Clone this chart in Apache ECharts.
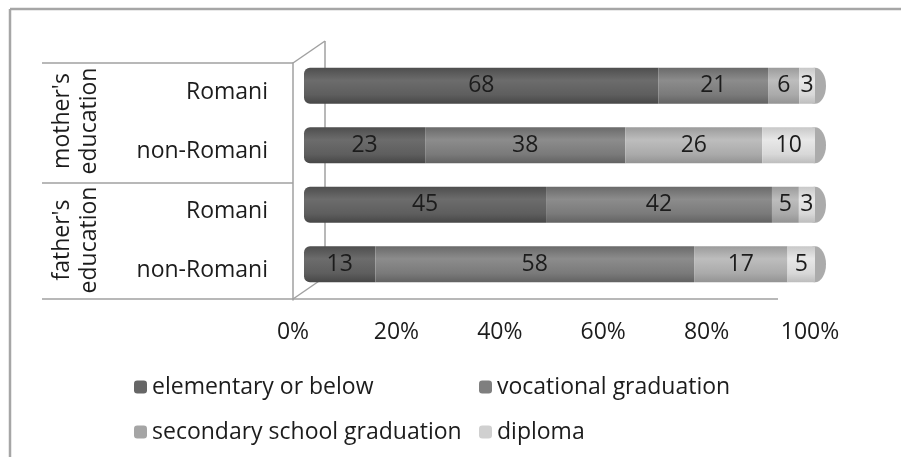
<!DOCTYPE html>
<html>
<head>
<meta charset="utf-8">
<script src="https://cdn.jsdelivr.net/npm/echarts@6/dist/echarts.min.js"></script>
<style>
  html, body { margin: 0; padding: 0; background: #fff; }
  #myChart { width: 901px; height: 457px; }
</style>
</head>
<body>
<div id="myChart"></div>
<script type="text/javascript">
// rows top to bottom
var categories = ['Romani', 'non-Romani', 'Romani', 'non-Romani']
var groupLabels = ["mother's\neducation", "father's\neducation"]
var elementary = [68, 23, 45, 13]
var vocational = [21, 38, 42, 58]
var secondary = [6, 26, 5, 17]
var diploma = [3, 10, 3, 5]
var tickLabels = ['0%', '20%', '40%', '60%', '80%', '100%']

var seriesNames = ['elementary or below', 'vocational graduation', 'secondary school graduation', 'diploma']
var seriesData = [elementary, vocational, secondary, diploma]
var flatColors = ['#666666', '#7f7f7f', '#a5a5a5', '#d0d0d0']
var shades = [
  ['#4e4e4e', '#6c6c6c', '#5e5e5e', '#474747'],
  ['#6a6a6a', '#8c8c8c', '#7a7a7a', '#626262'],
  ['#9b9b9b', '#bdbdbd', '#aaaaaa', '#939393'],
  ['#c8c8c8', '#e8e8e8', '#d8d8d8', '#bdbdbd']
]
var font = 'Open Sans'
var txt = '#1c1c1c'

// 100% stacked: each row is scaled to its own total
var totals = categories.map(function (c, i) {
  return seriesData.reduce(function (s, arr) { return s + arr[i] }, 0)
})

function cylinder(c) {
  return new echarts.graphic.LinearGradient(0, 0, 0, 1, [
    {offset: 0, color: c[0]},
    {offset: 0.35, color: c[1]},
    {offset: 0.75, color: c[2]},
    {offset: 1, color: c[3]}
  ])
}

var series = seriesNames.map(function (name, k) {
  return {
    name: name,
    type: 'bar',
    stack: 'all',
    xAxisIndex: 0,
    yAxisIndex: 0,
    barWidth: 36,
    z: 3,
    itemStyle: {color: cylinder(shades[k]), borderRadius: k === 0 ? [6, 0, 0, 6] : 0},
    label: {
      show: true,
      position: 'inside',
      fontFamily: font,
      fontSize: 23,
      color: txt,
      formatter: function (p) { return seriesData[k][p.dataIndex] }
    },
    data: seriesData[k].map(function (v, i) { return v / totals[i] * 100 })
  }
})

// end caps of the cylinders
series.push({
  name: 'cap',
  type: 'scatter',
  xAxisIndex: 0,
  yAxisIndex: 0,
  symbol: 'circle',
  symbolSize: [22, 36],
  z: 2,
  silent: true,
  itemStyle: {color: '#969696'},
  data: categories.map(function (c, i) {
    return [seriesData.reduce(function (s, arr) { return s + arr[i] }, 0) / totals[i] * 100, i]
  })
})

var lineStyle = {stroke: '#a0a0a0', lineWidth: 1.5}
var legendText = {fontSize: 23, color: txt, fontFamily: font, lineHeight: 26}
var myChart = echarts.init(document.getElementById('myChart'))
myChart.setOption({
  backgroundColor: '#fff',
  animation: false,
  textStyle: {fontFamily: font},
  grid: [
    {left: 304, right: 86, top: 56, bottom: 163},
    {left: 293, right: 91, top: 63, bottom: 157}
  ],
  xAxis: [
    {gridIndex: 0, type: 'value', min: 0, max: 100, show: false},
    {
      gridIndex: 1, type: 'value', min: 0, max: 100, interval: 20,
      axisLine: {show: false}, axisTick: {show: false}, splitLine: {show: false},
      axisLabel: {
        margin: 21, fontSize: 23, color: txt, fontFamily: font,
        formatter: function (v) { return tickLabels[v / 20] }
      }
    }
  ],
  yAxis: [
    {gridIndex: 0, type: 'category', inverse: true, data: categories, show: false},
    {
      gridIndex: 1, type: 'category', inverse: true, data: categories,
      axisLine: {show: true, lineStyle: {color: '#a0a0a0', width: 1.5}},
      axisTick: {show: false},
      axisLabel: {margin: 25, fontSize: 23, color: txt, fontFamily: font}
    }
  ],
  legend: [
    {
      orient: 'vertical', left: 129, top: 369, itemWidth: 13, itemHeight: 13, itemGap: 19,
      textStyle: legendText,
      data: [
        {name: seriesNames[0], itemStyle: {color: flatColors[0]}},
        {name: seriesNames[2], itemStyle: {color: flatColors[2]}}
      ]
    },
    {
      orient: 'vertical', left: 474, top: 369, itemWidth: 13, itemHeight: 13, itemGap: 19,
      textStyle: legendText,
      data: [
        {name: seriesNames[1], itemStyle: {color: flatColors[1]}},
        {name: seriesNames[3], itemStyle: {color: flatColors[3]}}
      ]
    }
  ],
  graphic: [
    // outer chart border
    {type: 'line', shape: {x1: 10, y1: 9, x2: 901, y2: 9}, style: {stroke: '#a6a6a6', lineWidth: 2.5}},
    {type: 'line', shape: {x1: 10, y1: 9, x2: 10, y2: 457}, style: {stroke: '#a6a6a6', lineWidth: 2.5}},
    // group table lines
    {type: 'line', shape: {x1: 42, y1: 63, x2: 293, y2: 63}, style: lineStyle},
    {type: 'line', shape: {x1: 42, y1: 183, x2: 293, y2: 183}, style: lineStyle},
    {type: 'line', shape: {x1: 42, y1: 299, x2: 778, y2: 299}, style: lineStyle},
    // 3d back wall
    {type: 'line', shape: {x1: 293, y1: 63, x2: 325, y2: 41}, style: lineStyle},
    {type: 'line', shape: {x1: 293, y1: 299, x2: 325, y2: 277}, style: lineStyle},
    {type: 'line', z: 1, shape: {x1: 325, y1: 41, x2: 325, y2: 277}, style: lineStyle},
    {
      type: 'text', x: 76, y: 121, rotation: Math.PI / 2,
      style: {text: groupLabels[0], font: '23px "Open Sans"', fill: txt, align: 'center', verticalAlign: 'middle', lineHeight: 27}
    },
    {
      type: 'text', x: 76, y: 240, rotation: Math.PI / 2,
      style: {text: groupLabels[1], font: '23px "Open Sans"', fill: txt, align: 'center', verticalAlign: 'middle', lineHeight: 27}
    }
  ],
  series: series
})
</script>
</body>
</html>
